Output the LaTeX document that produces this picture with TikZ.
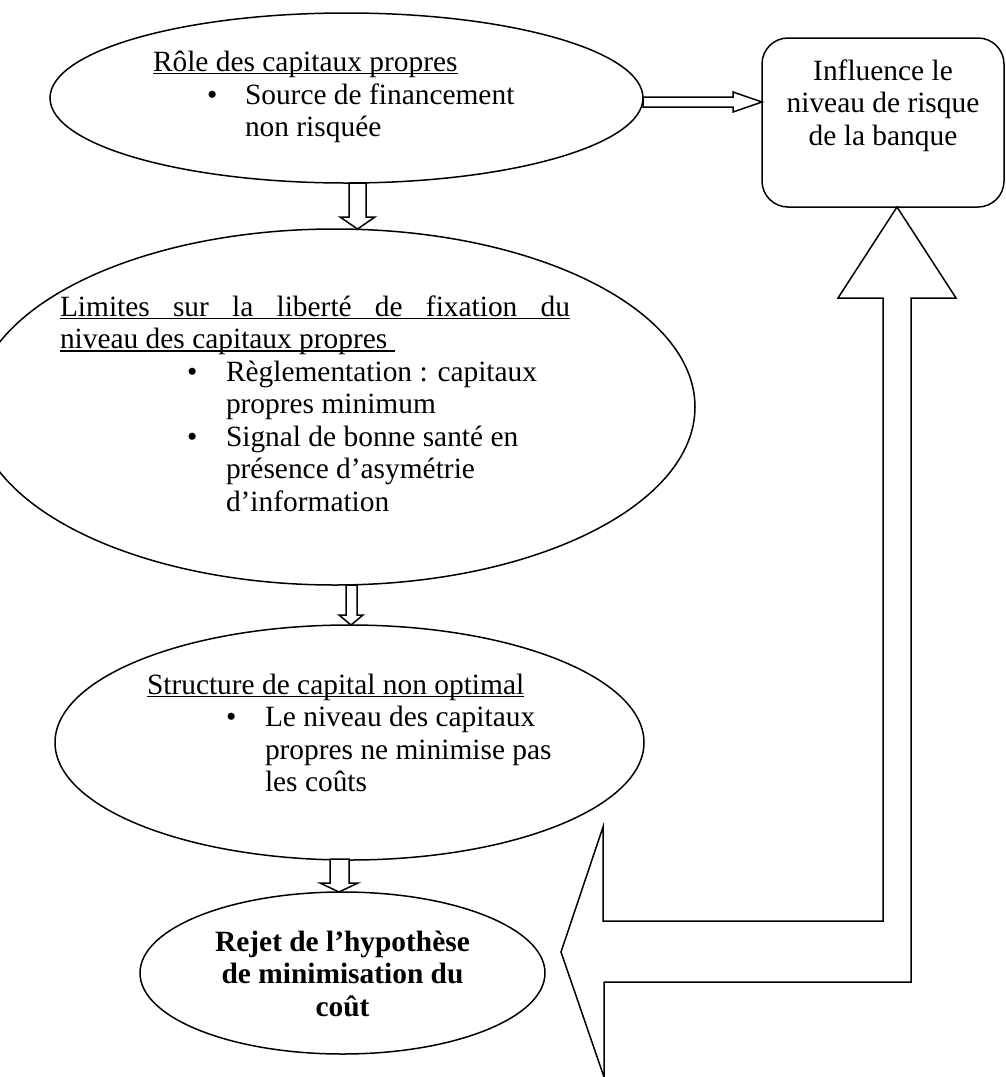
\documentclass[tikz,border=0pt]{standalone}
\usepackage{fontspec}
\setmainfont{Liberation Serif}
\usetikzlibrary{shapes.geometric}
\newcommand{\myul}[1]{\setbox0=\hbox{#1}\rlap{\rule[-3.2pt]{\wd0}{1.4pt}}\box0}
\begin{document}
\begin{tikzpicture}[x=1pt,y=-1pt,
  shp/.style={draw, fill=white, line width=1.5pt, line join=miter},
  ell/.style={shp, ellipse, inner sep=0pt, outer sep=0pt},
  txt/.style={inner sep=0pt, outer sep=0pt, anchor=base west, font=\fontsize{29.4}{32.5}\selectfont},
  ctxt/.style={txt, anchor=base},
  ]
\useasboundingbox (0,0) rectangle (1006,1077);
\clip (0,0) rectangle (1006,1077);
\fill[white] (0,0) rectangle (1006,1077);

% shapes
\node[ell, minimum width=593pt, minimum height=170pt] (e1) at (346.5,98) {};
\node[ell, minimum width=720pt, minimum height=356pt] (e2) at (335,407) {};
\node[ell, minimum width=589pt, minimum height=235pt] (e3) at (349.5,742.5) {};
\node[ell, minimum width=405pt, minimum height=162pt] (e4) at (342.5,973) {};
\node[shp, rounded corners=26pt, minimum width=242pt, minimum height=169pt, inner sep=0pt] (box) at (883,122.5) {};

% block arrows
\draw[shp] (643,97) -- (733,97) -- (733,92) -- (762,102) -- (733,112) -- (733,107) -- (643,107) -- cycle;
\draw[shp] (349,183) -- (366,183) -- (366,217) -- (375,217) -- (357.5,229) -- (340,217) -- (349,217) -- cycle;
\draw[shp] (346,585) -- (357,585) -- (357,615) -- (363,615) -- (351,625) -- (339,615) -- (346,615) -- cycle;
\draw[shp] (330,859) -- (349,859) -- (349,883) -- (358,883) -- (339,892) -- (320,883) -- (330,883) -- cycle;
\draw[shp] (883,298) -- (838,298) -- (897,207) -- (956,298) -- (911,298) -- (911,982) -- (604,982)
  -- (604,1077) -- (561,952) -- (603,827) -- (603,921) -- (883,921) -- cycle;

% texts: role
\node[txt] (t1) at (153,71) {\myul{Rôle des capitaux propres}};
\node[txt] (b1) at (207,104) {•};
\node[txt] (t2) at (245,104) {Source de financement};
\node[txt] (t3) at (245,136.5) {non risquée};

% box
\node[ctxt] (t4) at (883,80) {Influence le};
\node[ctxt] (t4b) at (883,112.5) {niveau de risque};
\node[ctxt] (t4c) at (883,145) {de la banque};

% limites
\node[txt] (t5) at (60,316) {\myul{\makebox[510pt][s]{Limites sur la liberté de fixation du}}};
\node[txt] (t6) at (60,348.5) {\myul{niveau des capitaux propres\ }};
\node[txt] (b2) at (187,381) {•};
\node[txt] (t7) at (226,381) {Règlementation : capitaux};
\node[txt] (t8) at (226,413.5) {propres minimum};
\node[txt] (b3) at (187,446) {•};
\node[txt] (t9) at (226,446) {Signal de bonne santé en};
\node[txt] (t10) at (226,478.5) {présence d’asymétrie};
\node[txt] (t11) at (226,511) {d’information};

% structure
\node[txt] (t12) at (147,694) {\myul{Structure de capital non optimal}};
\node[txt] (b4) at (226,726.5) {•};
\node[txt] (t13) at (265,726.5) {Le niveau des capitaux};
\node[txt] (t14) at (265,759) {propres ne minimise pas};
\node[txt] (t15) at (265,791.5) {les coûts};

% rejet
\node[ctxt] (t16) at (342.5,951) {\bfseries Rejet de l’hypothèse};
\node[ctxt] (t17) at (342.5,983.5) {\bfseries de minimisation du};
\node[ctxt] (t18) at (342.5,1016) {\bfseries coût};
\end{tikzpicture}
\end{document}
